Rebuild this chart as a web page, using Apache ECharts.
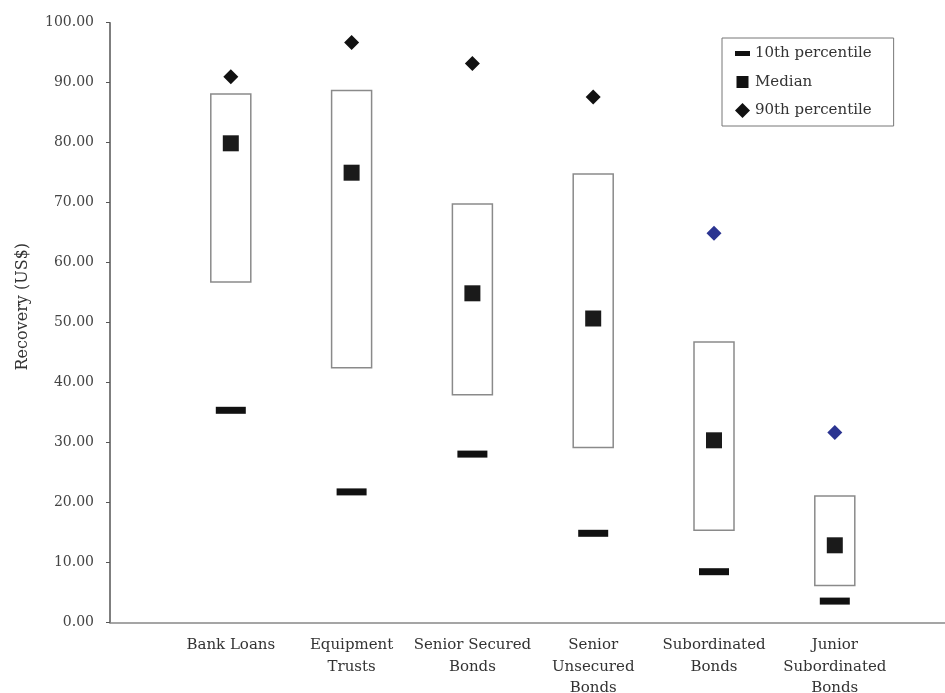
<!DOCTYPE html>
<html>
<head>
<meta charset="utf-8">
<script src="https://cdn.jsdelivr.net/npm/echarts@6/dist/echarts.min.js"></script>
<style>html,body{margin:0;padding:0;background:#fff;}#c{width:945px;height:693px;}</style>
</head>
<body>
<div id="c"></div>
<script>
const categories = ['Bank Loans', 'Equipment\nTrusts', 'Senior Secured\nBonds', 'Senior\nUnsecured\nBonds', 'Subordinated\nBonds', 'Junior\nSubordinated\nBonds'];
const boxLow  = [56.8, 42.5, 38.0, 29.2, 15.4, 6.2];
const boxHigh = [88.1, 88.7, 69.8, 74.8, 46.8, 21.1];
const p10     = [35.4, 21.8, 28.1, 14.9, 8.5, 3.6];
const median  = [79.9, 75.0, 54.9, 50.7, 30.4, 12.9];
const p90     = [91.0, 96.7, 93.2, 87.6, 64.9, 31.7];
const seriesNames = ['10th percentile', 'Median', '90th percentile'];

const FONT = 'DejaVu Serif';
const axisCats = [''].concat(categories, ['']);

const chart = echarts.init(document.getElementById('c'), null, {renderer: 'canvas'});
chart.setOption({
  animation: false,
  backgroundColor: '#fff',
  grid: {left: 110, top: 22.7, height: 600, width: 845.6, containLabel: false, outerBoundsMode: 'none'},
  legend: {
    orient: 'vertical', left: 722, top: 38,
    padding: [8, 22, 8, 13],
    itemWidth: 15, itemHeight: 15, itemGap: 13.5, itemTextGap: 3,
    borderColor: '#777', borderWidth: 1,
    textStyle: {fontFamily: FONT, fontSize: 15, color: '#333'},
    data: [
      {name: seriesNames[0], icon: 'path://M0,0M0,5h15v5h-15zM15,15', itemStyle: {color: '#111'}},
      {name: seriesNames[1], icon: 'path://M1.5,1.5h12v12h-12zM0,0M15,15', itemStyle: {color: '#111'}},
      {name: seriesNames[2], icon: 'path://M7.5,0.5L14.5,7.5L7.5,14.5L0.5,7.5z', itemStyle: {color: '#111'}}
    ]
  },
  xAxis: {
    type: 'category', data: axisCats, boundaryGap: false,
    axisLine: {lineStyle: {color: '#888', width: 1.5}},
    axisTick: {show: false},
    axisLabel: {interval: 0, margin: 12, fontFamily: FONT, fontSize: 15, color: '#333', lineHeight: 21.5}
  },
  yAxis: {
    type: 'value', min: 0, max: 100, interval: 10,
    name: 'Recovery (US$)', nameLocation: 'middle', nameGap: 79,
    nameTextStyle: {fontFamily: FONT, fontSize: 16, color: '#333', padding: [0, 0, 0, 32]},
    axisLine: {show: true, lineStyle: {color: '#555', width: 1.5}},
    axisTick: {show: true, length: 4, lineStyle: {color: '#555'}},
    splitLine: {show: false},
    axisLabel: {margin: 16, fontFamily: FONT, fontSize: 14, color: '#444', formatter: v => v.toFixed(2)}
  },
  series: [
    {
      type: 'custom', name: 'box', z: 1,
      data: categories.map((c, i) => [c, boxLow[i], boxHigh[i]]),
      encode: {x: 0, y: [1, 2]},
      renderItem: (params, api) => {
        const x = api.value(0);
        const top = api.coord([x, api.value(2)]);
        const bot = api.coord([x, api.value(1)]);
        const w = 40;
        return {type: 'rect', shape: {x: top[0] - w / 2, y: top[1], width: w, height: bot[1] - top[1]},
          style: {fill: '#fff', stroke: '#8a8a8a', lineWidth: 1.5}};
      }
    },
    {
      type: 'scatter', name: seriesNames[0], z: 3, symbol: 'rect', symbolSize: [30, 7],
      itemStyle: {color: '#111', opacity: 1},
      data: categories.map((c, i) => [c, p10[i]])
    },
    {
      type: 'scatter', name: seriesNames[1], z: 3, symbol: 'rect', symbolSize: 16,
      itemStyle: {color: '#1a1a1a', opacity: 1},
      data: categories.map((c, i) => [c, median[i]])
    },
    {
      type: 'scatter', name: seriesNames[2], z: 3, symbol: 'diamond', symbolSize: 15,
      itemStyle: {color: p => (p.dataIndex >= 4 ? '#2b3491' : '#111'), opacity: 1},
      data: categories.map((c, i) => [c, p90[i]])
    }
  ]
});
</script>
</body>
</html>
